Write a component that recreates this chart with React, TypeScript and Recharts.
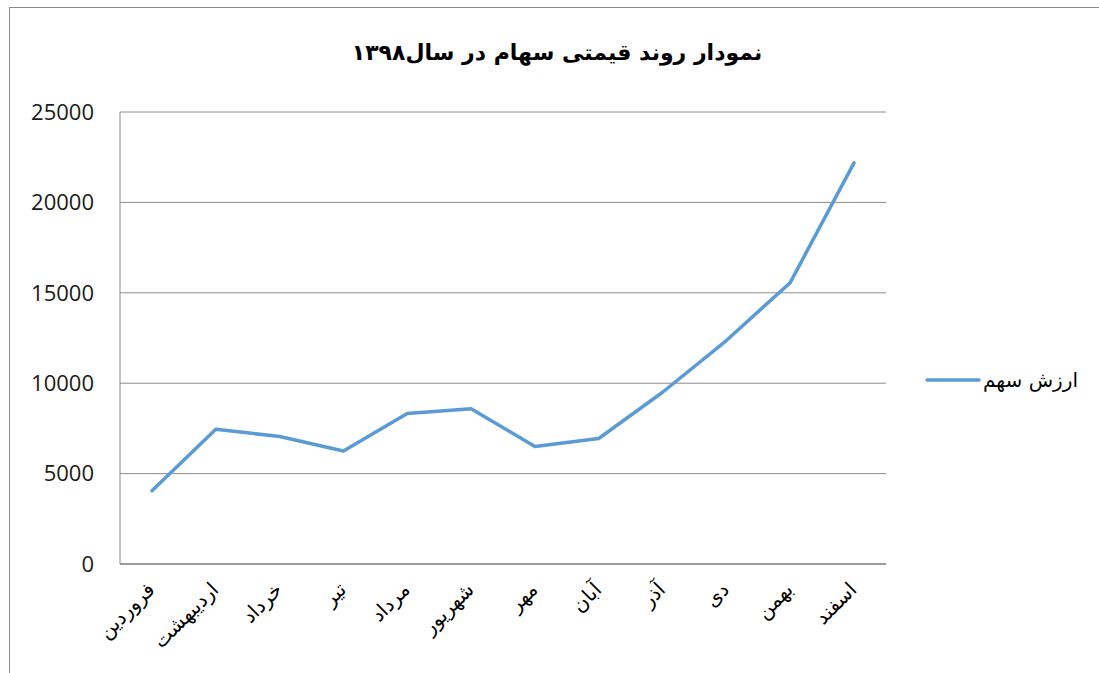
import React from 'react';
import { LineChart, Line, XAxis, YAxis, CartesianGrid, Legend } from 'recharts';

const months = ['فروردین', 'اردیبهشت', 'خرداد', 'تیر', 'مرداد', 'شهریور', 'مهر', 'آبان', 'آذر', 'دی', 'بهمن', 'اسفند'];
const stockValues = [4050, 7450, 7050, 6250, 8330, 8590, 6500, 6940, 9500, 12360, 15560, 22190];
const yTicks = [0, 5000, 10000, 15000, 20000, 25000];
const seriesName = 'ارزش سهم';
const chartTitle = 'نمودار روند قیمتی سهام در سال۱۳۹۸';

const data = months.map((m, i) => ({ month: m, value: stockValues[i] }));

const GRID = '#8c8c8c';
const LINE = '#5B9BD5';
const ARABIC_FONT = '"DejaVu Sans", sans-serif';

const XTick = (props: any) => {
  const { x, y, payload } = props;
  return (
    <g transform={`translate(${x - 6},${y + 9}) rotate(-45)`}>
      <text x={0} y={0} dy="0.7em" textAnchor="end" fill="#000" fontSize={20} fontFamily={ARABIC_FONT}>
        {payload.value}
      </text>
    </g>
  );
};

const LegendContent = () => (
  <div style={{ display: 'flex', alignItems: 'center', direction: 'ltr' }}>
    <svg width={56} height={10} style={{ display: 'block' }}>
      <line x1={2} y1={5} x2={54} y2={5} stroke={LINE} strokeWidth={3.5} strokeLinecap="round" />
    </svg>
    <span style={{ fontFamily: ARABIC_FONT, fontSize: 20, color: '#000', marginLeft: 2, whiteSpace: 'nowrap' }} dir="rtl">
      {seriesName}
    </span>
  </div>
);

export default function App() {
  return (
    <div style={{ position: 'absolute', left: 0, top: 0, width: 1099, height: 673, overflow: 'hidden', background: '#fff' }}>
      <div
        style={{
          position: 'absolute',
          left: 9,
          top: 7,
          width: 1200,
          height: 800,
          border: `1px solid ${GRID}`,
          boxSizing: 'border-box',
        }}
      />
      <div
        dir="rtl"
        style={{
          position: 'absolute',
          left: 0,
          width: 1114,
          top: 35,
          textAlign: 'center',
          fontFamily: ARABIC_FONT,
          fontWeight: 'bold',
          fontSize: 22,
          color: '#000',
          lineHeight: '36px',
        }}
      >
        {chartTitle}
      </div>
      <div style={{ position: 'absolute', left: 0, top: 0 }}>
        <LineChart width={1099} height={673} data={data} margin={{ top: 112, right: 213, bottom: 0, left: 0 }}>
          <CartesianGrid vertical={false} stroke={GRID} strokeWidth={1} />
          <XAxis
            dataKey="month"
            height={109}
            padding={{ left: 32, right: 32 }}
            axisLine={{ stroke: GRID, strokeWidth: 1.5 }}
            tickLine={false}
            interval={0}
            tick={<XTick />}
          />
          <YAxis
            width={120}
            domain={[0, 25000]}
            ticks={yTicks}
            axisLine={{ stroke: GRID, strokeWidth: 1 }}
            tickLine={false}
            tickSize={0}
            tickMargin={26}
            tick={{ fill: '#1a1a1a', fontSize: 22, fontFamily: '"Open Sans", sans-serif' }}
          />
          <Legend
            layout="vertical"
            align="center"
            verticalAlign="middle"
            content={<LegendContent />}
            wrapperStyle={{ position: 'absolute', left: 925, top: 368, right: 'auto', bottom: 'auto', width: 170 }}
          />
          <Line
            type="linear"
            dataKey="value"
            name={seriesName}
            stroke={LINE}
            strokeWidth={3.5}
            strokeLinejoin="round"
            strokeLinecap="round"
            dot={false}
            activeDot={false}
            isAnimationActive={false}
          />
        </LineChart>
      </div>
    </div>
  );
}
